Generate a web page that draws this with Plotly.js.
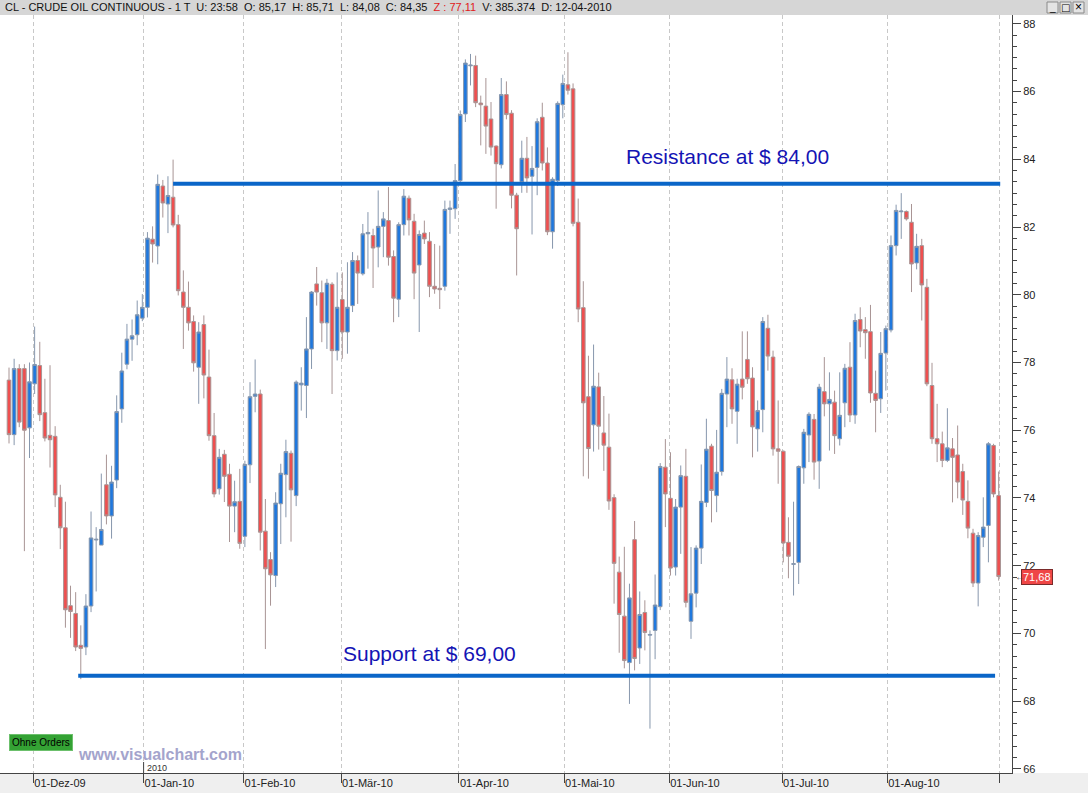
<!DOCTYPE html>
<html><head><meta charset="utf-8">
<script src="https://cdn.plot.ly/plotly-3.0.1.min.js"></script>
<style>html,body{margin:0;padding:0;background:#fff;overflow:hidden}#chart{width:1088px;height:793px}</style>
</head><body><div id="chart"></div>
<script>
// ---- calendar of trading days (categories) ----
const startDate = '2009-11-23';
const endDate = '2010-08-31';
const holidays = ['2009-11-26','2009-12-25','2010-01-01','2010-01-18','2010-02-15','2010-04-02','2010-05-31','2010-07-05'];

// ---- OHLC values ----
const openP = [77.48,75.87,77.82,77.82,76.07,77.37,77.91,76.52,75.85,75.82,
74.02,73.12,70.82,70.59,69.65,69.60,70.81,72.76,72.61,74.39,
73.47,74.53,76.63,77.95,78.69,78.82,79.31,79.63,81.64,81.44,
83.21,82.68,82.88,82.07,80.08,79.63,79.21,77.86,79.12,77.57,
75.84,74.27,75.29,74.70,73.76,73.90,72.87,74.98,77.00,77.07,
73.02,72.18,71.71,73.83,74.69,75.32,74.07,77.34,77.32,78.40,
80.32,80.06,79.17,80.31,78.35,79.86,78.90,79.68,81.01,80.62,
81.80,81.75,81.41,82.02,82.19,81.13,79.87,82.07,82.85,82.17,
80.88,81.82,81.58,80.25,80.19,80.25,82.52,82.54,83.37,85.34,
86.76,86.77,85.66,85.57,85.19,84.39,83.84,85.91,85.36,82.94,
83.34,84.03,83.50,83.76,85.24,83.89,81.86,83.37,85.61,86.20,
86.08,82.14,79.62,76.99,76.16,77.28,75.92,75.50,74.01,71.81,
70.51,69.14,72.77,69.57,70.62,69.95,70.09,70.79,74.91,73.99,
71.96,73.73,74.64,70.36,71.19,72.52,73.87,75.53,74.07,74.78,
77.07,77.49,76.56,77.51,78.09,77.54,76.04,76.61,79.01,78.16,
75.45,75.38,72.69,72.04,72.10,74.89,75.86,76.32,75.09,77.14,
76.78,76.83,75.75,76.81,77.86,76.45,79.27,78.97,78.91,77.09,
76.93,78.28,78.96,81.45,82.45,82.46,82.14,80.94,81.45,80.22,
77.32,75.75,75.60,75.11,75.45,75.27,74.78,73.90,72.96,71.49,
72.84,73.19,75.55,74.07];
const highP = [77.85,78.11,77.95,77.95,78.00,79.06,78.61,77.52,77.92,76.12,
74.39,73.89,71.41,71.22,70.24,71.16,73.60,73.14,74.72,75.28,
74.95,77.03,78.29,79.14,79.27,79.83,80.02,81.85,82.02,83.55,
83.39,83.50,83.99,82.36,80.72,80.39,79.39,79.19,79.39,78.38,
76.51,75.45,75.42,75.01,74.51,74.86,75.10,77.42,78.09,77.20,
73.97,72.40,74.17,75.01,75.72,75.40,77.47,77.86,79.34,80.11,
80.82,80.42,80.47,80.37,80.66,80.66,80.96,81.26,81.16,82.09,
82.44,81.95,83.08,82.44,83.18,81.31,82.14,83.12,82.93,82.39,
81.90,82.19,81.85,81.50,81.45,82.78,82.78,83.86,85.44,86.95,
87.11,87.06,85.88,86.40,85.69,84.41,86.40,86.30,85.45,83.01,
84.55,84.66,84.39,85.21,85.67,84.35,83.47,85.71,86.50,87.16,
86.24,82.84,80.40,78.20,78.53,77.70,77.01,76.49,74.11,72.27,
72.56,71.47,73.32,71.24,70.98,70.09,71.74,75.03,75.74,75.35,
73.97,74.96,75.45,72.55,72.60,74.99,76.34,75.60,76.01,77.22,
78.16,77.83,77.52,78.92,78.92,77.86,76.88,79.34,79.41,78.35,
76.88,75.40,73.43,73.89,74.96,76.04,76.53,76.48,77.37,78.16,
77.71,77.17,77.71,77.96,78.60,79.44,79.63,79.34,79.70,77.76,
78.90,79.09,81.75,82.66,83.00,82.49,82.68,81.80,81.65,80.47,
77.99,76.78,75.96,76.65,75.77,76.14,75.01,74.52,73.09,72.99,
74.02,75.65,75.60,74.78];
const lowP = [75.61,75.56,76.09,72.43,75.18,77.07,76.27,75.67,74.90,73.73,
72.49,70.17,69.87,69.48,68.65,69.36,70.63,71.24,72.61,73.22,
72.80,74.29,76.22,77.80,78.05,78.51,79.22,79.33,80.95,80.90,
82.28,81.82,81.99,79.98,78.40,78.94,77.73,76.78,76.94,75.69,
74.02,74.10,73.88,72.70,72.99,72.50,72.55,74.44,76.53,72.45,
69.54,70.82,71.37,72.64,73.43,72.71,73.76,76.58,76.36,77.81,
79.68,78.60,78.40,77.07,78.06,78.11,78.26,79.49,79.73,80.57,
80.77,80.20,80.81,81.11,80.86,79.19,79.34,81.75,81.75,79.87,
78.90,81.50,79.93,80.03,79.58,80.12,81.80,82.24,83.27,85.10,
86.18,85.54,84.41,84.16,84.11,82.54,83.73,85.18,82.55,80.57,
83.01,83.01,81.78,82.94,83.67,81.76,81.36,83.21,85.21,85.91,
82.02,79.19,74.64,74.57,75.37,75.43,74.80,73.65,70.88,69.43,
68.97,67.92,68.91,69.10,69.50,67.19,69.24,70.69,73.14,71.71,
71.71,72.35,70.77,69.84,70.77,72.05,73.73,73.28,73.58,74.66,
76.09,76.19,75.60,76.91,77.37,75.20,75.37,75.94,77.76,75.25,
74.42,72.10,71.63,71.12,71.46,74.42,75.06,74.54,74.27,76.41,
75.40,75.30,75.55,76.09,76.24,76.19,78.45,78.11,76.81,75.94,
76.51,77.17,78.89,81.16,81.65,82.19,80.08,80.75,79.24,77.30,
75.60,75.06,74.91,75.06,73.87,73.99,73.50,72.81,71.37,70.80,
72.55,72.10,74.02,71.56];
const closeP = [75.87,77.82,76.24,76.00,77.43,77.94,76.46,75.77,75.72,74.09,
73.12,70.70,70.65,69.60,69.56,70.81,72.82,72.78,73.07,73.47,
74.47,76.55,77.75,78.69,78.79,79.41,79.63,81.67,81.50,83.26,
82.71,82.93,82.06,80.12,79.63,79.17,77.99,78.90,77.63,75.84,
74.12,75.20,74.64,73.76,73.89,72.66,74.99,76.99,77.07,72.99,
71.91,71.73,73.85,74.73,75.37,74.24,77.42,77.39,78.40,80.08,
80.08,79.17,80.34,78.35,79.63,78.90,79.63,81.01,80.64,81.80,
81.84,81.38,82.02,82.24,81.11,79.90,82.07,82.91,82.21,80.64,
81.78,81.65,80.25,80.17,80.15,82.52,82.56,83.37,85.32,86.84,
86.78,85.67,85.61,84.98,84.36,83.87,85.91,85.32,82.94,81.95,
84.03,83.45,83.73,85.11,83.89,81.86,83.41,85.65,86.24,86.04,
82.11,79.58,76.81,75.46,77.30,76.12,75.56,73.91,72.07,70.56,
69.20,71.05,69.26,70.56,70.03,69.97,70.84,74.93,74.12,71.93,
73.73,74.66,70.92,71.17,72.52,73.90,75.44,74.22,74.76,77.09,
77.51,76.63,77.36,77.27,77.52,76.10,76.58,79.21,78.19,75.45,
75.38,72.67,72.28,72.06,74.93,75.94,76.47,75.06,77.27,76.78,
76.91,75.84,76.44,77.83,76.45,79.24,78.93,78.88,77.10,76.88,
78.27,79.00,81.45,82.49,82.47,82.24,80.91,81.43,80.29,77.37,
75.75,75.60,75.11,75.48,75.20,74.47,73.94,73.11,71.49,72.89,
73.14,75.60,74.12,71.68];

// ---- axis tick labels ----
const tickDates = ['2009-12-01','2010-01-01','2010-02-01','2010-03-01','2010-04-01','2010-05-01','2010-06-01','2010-07-01','2010-08-01','2010-09-01'];
const tickLabels = ['01-Dez-09','01-Jan-10','01-Feb-10','01-Mär-10','01-Apr-10','01-Mai-10','01-Jun-10','01-Jul-10','01-Aug-10',''];

// ---- drawn support / resistance levels ----
const levelNames = ['Resistance at $ 84,00','Support at $ 69,00'];
const levelValues = [83.28, 68.75];
const levelStart = ['2010-01-11','2009-12-14'];
const levelEnd = ['2010-08-31','2010-08-31'];

// header text
const headerText = 'CL - CRUDE OIL CONTINUOUS - 1 T  U: 23:58  O: 85,17  H: 85,71  L: 84,08  C: 84,35  <span style="color:#e02020">Z : 77,11</span>  V: 385.374  D: 12-04-2010';

function tradingDays(s, e, hol) {
  const out = [];
  const d = new Date(s + 'T00:00:00Z'), end = new Date(e + 'T00:00:00Z');
  while (d <= end) {
    const iso = d.toISOString().slice(0, 10);
    const wd = d.getUTCDay();
    if (wd !== 0 && wd !== 6 && hol.indexOf(iso) < 0) out.push(iso);
    d.setUTCDate(d.getUTCDate() + 1);
  }
  return out;
}
const dates = tradingDays(startDate, endDate, holidays);
const xi = dates.map((d, i) => i);
function datePos(td) {
  let i = dates.findIndex(d => d >= td);
  if (i < 0) i = dates.length;
  return i - (dates[i] === td ? 0.25 : 0.75);
}
const tickPos = tickDates.map(datePos);

// geometry of the page (pixels)
const W = 1088, H = 793, ML = 0, MR = 76, MT = 15, MB = 20;
const PW = W - ML - MR, PH = H - MT - MB;
const px = x => (x - ML) / PW;
const py = y => (H - MB - y) / PH;

const fontF = 'Liberation Sans, Arial, sans-serif';
const lineBlue = '#0a66c8';
const textBlue = '#1414b4';

const shapes = [
  // title bar
  {type:'rect', xref:'paper', yref:'paper', x0:px(0), x1:px(W), y0:py(MT), y1:py(0), fillcolor:'#d6d6d6', line:{width:0}, layer:'below'},
  // bottom strip
  {type:'rect', xref:'paper', yref:'paper', x0:px(0), x1:px(W), y0:py(H), y1:py(H - MB), fillcolor:'#efefef', line:{width:0}, layer:'below'},
  // year marker
  {type:'line', xref:'x', yref:'paper', x0:tickPos[1], x1:tickPos[1], y0:0, y1:py(762), line:{color:'#444', width:1}},
  // window buttons
  {type:'rect', xref:'paper', yref:'paper', x0:px(1047), x1:px(1058), y0:py(13), y1:py(2), fillcolor:'#e4e4e4', line:{color:'#8a8a8a', width:1}},
  {type:'rect', xref:'paper', yref:'paper', x0:px(1060), x1:px(1071), y0:py(13), y1:py(2), fillcolor:'#e4e4e4', line:{color:'#8a8a8a', width:1}},
  {type:'rect', xref:'paper', yref:'paper', x0:px(1073), x1:px(1084), y0:py(13), y1:py(2), fillcolor:'#e4e4e4', line:{color:'#8a8a8a', width:1}}
];
levelValues.forEach((v, k) => {
  shapes.push({type:'line', xref:'x', yref:'y', x0:dates.indexOf(levelStart[k]) - (k === 1 ? 0.5 : 0), x1:dates.indexOf(levelEnd[k]) + (k === 0 ? 0.3 : -0.7), y0:v, y1:v, line:{color:lineBlue, width:4}});
});

const lastClose = closeP[closeP.length - 1];
const annotations = [
  {xref:'paper', yref:'paper', x:px(3), y:py(7.5), xanchor:'left', yanchor:'middle', showarrow:false, text:headerText, font:{family:fontF, size:11, color:'#111'}},
  {xref:'paper', yref:'paper', x:px(1052.5), y:py(7.5), xanchor:'center', yanchor:'middle', showarrow:false, text:'_', font:{family:fontF, size:10, color:'#000'}},
  {xref:'paper', yref:'paper', x:px(1065.5), y:py(7.5), xanchor:'center', yanchor:'middle', showarrow:false, text:'□', font:{family:'DejaVu Sans', size:10, color:'#000'}},
  {xref:'paper', yref:'paper', x:px(1078.5), y:py(7.5), xanchor:'center', yanchor:'middle', showarrow:false, text:'×', font:{family:fontF, size:12, color:'#000'}},
  {xref:'paper', yref:'y', x:px(624), y:84.07, xanchor:'left', yanchor:'middle', showarrow:false, text:levelNames[0], font:{family:fontF, size:21, color:textBlue}},
  {xref:'paper', yref:'y', x:px(341), y:69.40, xanchor:'left', yanchor:'middle', showarrow:false, text:levelNames[1], font:{family:fontF, size:21, color:textBlue}},
  {xref:'paper', yref:'y', x:px(1021), y:lastClose, xanchor:'left', yanchor:'middle', showarrow:false, text:lastClose.toFixed(2).replace('.', ','), font:{family:fontF, size:11, color:'#fff'}, bgcolor:'#ef4646', bordercolor:'#7a2a2a', borderwidth:1, borderpad:1},
  {xref:'paper', yref:'y', x:px(1013), y:lastClose, xanchor:'left', yanchor:'middle', showarrow:false, text:'←', font:{family:fontF, size:10, color:'#555'}},
  {xref:'paper', yref:'paper', x:px(9), y:py(742), xanchor:'left', yanchor:'middle', showarrow:false, text:'Ohne Orders', font:{family:fontF, size:10, color:'#000'}, bgcolor:'#34a234', bordercolor:'#6cc06c', borderwidth:1, borderpad:2},
  {xref:'x', yref:'paper', x:tickPos[1], y:py(767.5), xanchor:'left', yanchor:'middle', showarrow:false, text:'2010', font:{family:fontF, size:9, color:'#333'}, xshift:1},
  {xref:'paper', yref:'paper', x:px(76), y:py(754), xanchor:'left', yanchor:'middle', showarrow:false, text:'<b>www.visualchart.com</b>', font:{family:fontF, size:16, color:'#a4a4cc'}}
];

const trace = {
  type:'candlestick', x:xi, open:openP, high:highP, low:lowP, close:closeP,
  increasing:{line:{color:'#8797ad', width:1}, fillcolor:'#1f78de'},
  decreasing:{line:{color:'#a89494', width:1}, fillcolor:'#ef4f4f'},
  whiskerwidth:0, hoverinfo:'skip'
};

const layout = {
  width:W, height:H, margin:{l:ML, r:MR, t:MT, b:MB, pad:0},
  paper_bgcolor:'#ffffff', plot_bgcolor:'#ffffff', showlegend:false, hovermode:false,
  boxgap:0,
  xaxis:{range:[-1.755, 195.6], rangeslider:{visible:false}, showgrid:true, gridcolor:'#c8c8c8', griddash:'4px,3px', gridwidth:1,
    tickmode:'array', tickvals:tickPos, ticktext:tickLabels, ticks:'outside', ticklen:9, tickcolor:'#444',
    ticklabelposition:'outside right', showline:true, linecolor:'#444', linewidth:1, zeroline:false,
    tickfont:{family:fontF, size:11, color:'#222'}, fixedrange:true},
  yaxis:{side:'right', range:[65.88, 88.26], tick0:0, dtick:2, showgrid:false, zeroline:false,
    ticks:'outside', ticklen:8, tickcolor:'#444', showline:true, linecolor:'#444', linewidth:1,
    tickfont:{family:fontF, size:11, color:'#222'},
    minor:{dtick:1/3, ticks:'outside', ticklen:4, tickcolor:'#444', showgrid:false}, fixedrange:true},
  shapes:shapes, annotations:annotations
};

Plotly.newPlot('chart', [trace], layout, {staticPlot:true, displayModeBar:false});
</script>
</body></html>
